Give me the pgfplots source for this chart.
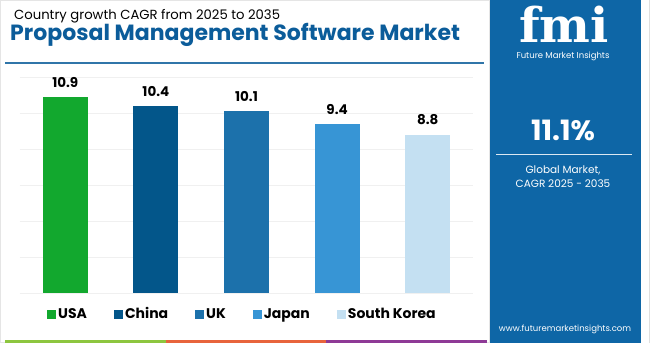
\documentclass[border=0pt]{standalone}
\usepackage{fontspec}
\setmainfont{Poppins}
\newfontfamily\logofont{DejaVu Serif}
\usepackage{pgfplots}
\pgfplotsset{compat=1.18}
\definecolor{usa}{HTML}{12A82E}
\definecolor{china}{HTML}{03568A}
\definecolor{uk}{HTML}{1C71AB}
\definecolor{japan}{HTML}{3795D5}
\definecolor{korea}{HTML}{C4E0F2}
\definecolor{panel}{HTML}{0E66A6}
\definecolor{titleblue}{HTML}{0B5C9A}
\definecolor{stripg}{HTML}{8DC63F}
\definecolor{stripo}{HTML}{E8643C}
\definecolor{stripp}{HTML}{8E3A96}
\begin{document}
\begin{tikzpicture}[x=1pt,y=1pt]
\useasboundingbox (0,0) rectangle (650,343);
\fill[white] (0,0) rectangle (650,343);
\draw[gray!20, line width=0.8pt] (0.5,0.5) rectangle (489,342.5);
\fill[panel] (490,0) rectangle (641,343);
\draw[gray!25, line width=0.8pt] (649.5,0) -- (649.5,343);
% titles
\node[anchor=base west, inner sep=0pt, font=\fontsize{13.2}{15}\selectfont] at (14,323) {Country growth CAGR from 2025 to 2035};
\node[anchor=base west, inner sep=0pt, text=titleblue, font=\bfseries\fontsize{22}{24}\selectfont] at (10,302) {Proposal Management Software Market};
\draw[titleblue!85, line width=1.5pt] (5,280) -- (484,280);
% bottom strip
\fill[stripg] (5,0) rectangle (166,3.5);
\fill[stripo] (166,0) rectangle (326,3.5);
\fill[stripp] (326,0) rectangle (487,3.5);
% right panel
\node[white, inner sep=0pt, font=\logofont\bfseries\fontsize{48}{48}\selectfont] at (564,319) {fmi};
\node[white, inner sep=0pt, font=\fontsize{8.5}{10}\selectfont] at (563,287) {Future Market Insights};
\node[white, inner sep=0pt, font=\bfseries\fontsize{28}{30}\selectfont] at (563,213) {11.1\%};
\draw[white!85!panel, line width=1pt] (496,188) -- (632,188);
\node[white, inner sep=0pt, font=\fontsize{10.5}{12}\selectfont] at (563,173) {Global Market,};
\node[white, inner sep=0pt, font=\fontsize{10.5}{12}\selectfont] at (563,159) {CAGR 2025 - 2035};
\node[white, inner sep=0pt, font=\fontsize{8.5}{10}\selectfont] at (565,14) {www.futuremarketinsights.com};
\begin{axis}[
  at={(20pt,50pt)}, anchor=south west, scale only axis,
  width=453pt, height=216pt,
  xmin=-0.5, xmax=4.5, ymin=0, ymax=12,
  axis line style={draw=none}, tick style={draw=none},
  xtick=\empty, ytick={0,2,...,12}, yticklabels={},
  ymajorgrids, grid style={gray!12, line width=0.8pt},
  ybar, bar width=45pt, bar shift=0pt,
  nodes near coords,
  /pgf/number format/.cd, fixed, precision=1, fixed zerofill, assume math mode=true,
  /pgfplots/.cd,
  nodes near coords style={font=\bfseries\fontsize{13.5}{15}\selectfont, text=black, yshift=6pt},
  legend columns=5,
  legend style={draw=none, fill=none, at={(0.5,0)}, anchor=center, yshift=-21pt, xshift=-4pt,
    font=\bfseries\fontsize{14}{16}\selectfont,
    /tikz/every even column/.append style={column sep=25pt}},
  legend image code/.code={\fill[#1] (0pt,-4.5pt) rectangle (9pt,4.5pt);},
]
\addplot[fill=usa, draw=none] coordinates {(0,10.9)};
\addlegendentry{USA}
\addplot[fill=china, draw=none] coordinates {(1,10.4)};
\addlegendentry{China}
\addplot[fill=uk, draw=none] coordinates {(2,10.1)};
\addlegendentry{UK}
\addplot[fill=japan, draw=none] coordinates {(3,9.4)};
\addlegendentry{Japan}
\addplot[fill=korea, draw=none] coordinates {(4,8.8)};
\addlegendentry{South Korea}
\end{axis}
\end{tikzpicture}
\end{document}
